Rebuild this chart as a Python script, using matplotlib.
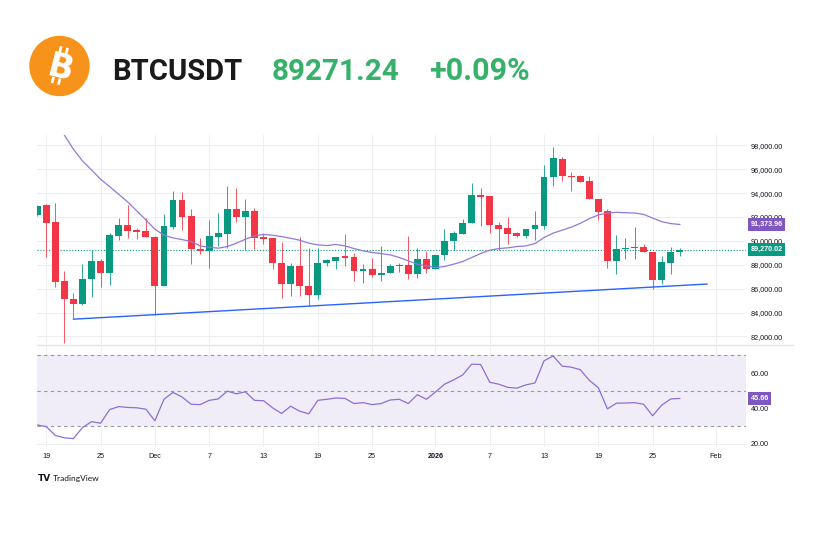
import matplotlib
matplotlib.use("Agg")
import matplotlib.pyplot as plt
import matplotlib.dates as mdates
from matplotlib.patches import Circle
from matplotlib.transforms import blended_transform_factory
import numpy as np
import pandas as pd

# ---------------- data ----------------
symbol = "BTCUSDT"
last_price_text = "89271.24"
change_text = "+0.09%"

dates = pd.date_range("2025-11-18", "2026-01-28", freq="D")
opens = [92180, 92980, 91560, 86630, 85120, 84730, 86820, 88300, 87330, 90420, 91310, 90890, 90810,
         90310, 86240, 91200, 93430, 92060, 89360, 89190, 90360, 90610, 92650, 92010, 92510, 90310,
         90250, 88190, 86410, 87910, 86240, 85490, 88110, 88330, 88720, 88660, 87440, 87630, 87160,
         87330, 87860, 87970, 87190, 88470,
         87630, 88860, 89980, 90610, 91480, 93850, 93740, 91340, 91060, 90640, 90390, 90980, 91230,
         95380, 96860, 95460, 95430, 95010, 93480, 92500, 88310, 89290, 89430, 89510, 89090, 86730,
         88170, 89090]
highs = [93000, 93050, 93150, 87470, 85630, 88080, 89220, 88520, 90640, 91900, 93040, 91090, 91920,
         90400, 92290, 94150, 94070, 92650, 90250, 91760, 92320, 94600, 94460, 93540, 92760, 90640,
         90280, 89910, 88110, 90340, 89440, 89420, 88470, 88660, 90560, 88970, 88050, 88550, 89560,
         88080, 88110, 90390, 89390, 89140,
         88860, 91000, 90810, 91810, 94820, 94430, 93740, 91620, 91980, 90780, 91000, 92480, 96330,
         97890, 97050, 95770, 95490, 95430, 93480, 92700, 90490, 90270, 91130, 89760, 89090, 88730,
         89460, 89370]
lows = [92100, 88660, 86150, 81470, 83560, 84650, 85320, 86150, 86320, 90110, 90220, 90170, 90300,
        83840, 86200, 91030, 90890, 88080, 88940, 87740, 89580, 89440, 91590, 89280, 89310, 89780,
        87630, 85260, 85350, 85350, 84570, 85150, 87910, 87630, 87910, 86660, 86490, 87020, 86660,
        87300, 87410, 86820, 86880, 87350,
        87630, 88410, 89250, 90610, 91480, 91260, 90700, 89250, 89720, 90360, 90250, 90090, 91030,
        94570, 95010, 94200, 94900, 93480, 91750, 87750, 87200, 88450, 88510, 89090, 85970, 86420,
        87200, 88760]
closes = [92930, 91510, 86570, 85120, 84680, 86820, 88300, 87330, 90480, 91310, 90840, 90750, 90340,
          86240, 91260, 93430, 92010, 89330, 89190, 90390, 90670, 92650, 92010, 92510, 90250, 90200,
          88110, 86410, 87910, 86240, 85490, 88130, 88390, 88660, 88580, 87440, 87630, 87160, 87350,
          87880, 87970, 87190, 88470, 87630,
          88860, 89980, 90640, 91480, 93820, 93680, 91310, 91030, 90610, 90420, 91000, 91310, 95380,
          96910, 95460, 95350, 94960, 93480, 92440, 88310, 89320, 89430, 89510, 89090, 86730, 88230,
          89070, 89270.02]

ma_start = "2025-11-21"
ma_values = [98850, 97670, 96690, 95940, 95160, 94540, 93900, 93260, 92510, 91760,
             90980, 90480, 90250, 90110, 89950, 89580, 89470, 89390, 89530, 89810, 90140, 90420,
             90530, 90480, 90360, 90220, 90060, 89810, 89670, 89610, 89700, 89580, 89360, 89170,
             89030, 88940, 88830, 88610, 88330, 88050, 87910,
             87770, 87860, 88050, 88270, 88610, 88940, 89220, 89360, 89420, 89530, 89580, 89780,
             90280, 90650, 90900, 91150, 91470, 91860, 92170, 92330, 92390, 92360, 92330, 92220,
             91910, 91610, 91450, 91373.96]

rsi_values = [30.7, 29.8, 24.8, 23.5, 23.0, 29.3, 32.6, 31.7, 39.4, 41.1, 40.6, 40.4, 39.6,
              33.1, 45.2, 49.1, 46.5, 42.4, 42.2, 44.6, 45.4, 49.8, 48.3, 49.4, 44.6, 44.4, 40.4,
              37.2, 41.3, 38.5, 37.0, 44.6, 45.2, 45.9, 45.7, 42.8, 43.3, 42.2, 42.8, 44.8, 45.2,
              42.8, 47.8, 45.2,
              49.3, 53.7, 56.1, 58.9, 65.0, 64.8, 54.8, 53.7, 51.9, 51.5, 53.3, 54.4, 66.9, 69.6,
              63.9, 63.3, 61.9, 55.9, 51.7, 39.8, 43.0, 43.1, 43.3, 42.4, 35.9, 41.9, 45.4, 45.66]

trend_dates = ["2025-11-22", "2026-01-31"]
trend_values = [83450, 86390]

price_ticks = [82000, 84000, 86000, 88000, 90000, 92000, 94000, 96000, 98000]
rsi_ticks = [20, 40, 60]
rsi_levels = [30, 50, 70]
rsi_band = (30, 70)

x_tick_dates = ["2025-11-19", "2025-11-25", "2025-12-01", "2025-12-07", "2025-12-13",
                "2025-12-19", "2025-12-25", "2026-01-01", "2026-01-07", "2026-01-13",
                "2026-01-19", "2026-01-25", "2026-02-01"]
x_tick_labels = ["19", "25", "Dec", "7", "13", "19", "25", "2026", "7", "13", "19", "25", "Feb"]

# ---------------- styling ----------------
GREEN = "#089981"
RED = "#F23645"
PURPLE = "#7E57C2"
MA_COL = "#9478D8"
GRID = "#EDEEF1"
TXT = "#131722"
AXFONT = "Liberation Sans"
AXSIZE = 5.2

W, H = 832, 554
fig = plt.figure(figsize=(W / 100, H / 100), dpi=100)
fig.patch.set_facecolor("white")


def frac(l, t, r, b):
    return [l / W, 1 - b / H, (r - l) / W, (b - t) / H]


L, R = 37.3, 746.0
ax = fig.add_axes(frac(L, 135, R, 344))
rx = fig.add_axes(frac(L, 345, R, 447), sharex=ax)

xd = mdates.date2num(dates)
o = np.array(opens, float)
h = np.array(highs, float)
lo = np.array(lows, float)
c = np.array(closes, float)
up = c >= o
cols = np.where(up, GREEN, RED)

# x limits (pixel-derived)
ref = mdates.date2num(pd.Timestamp("2025-11-19"))
ppd = 9.05
ax.set_xlim(ref - (46.3 - L) / ppd, ref + (R - 46.3) / ppd)
ax.set_ylim(81372, 98862)

# candles
ax.vlines(xd, lo, h, colors=cols, lw=0.7, alpha=0.85, zorder=2)
body_b = np.minimum(o, c)
body_h = np.maximum(np.abs(c - o), 60)
ax.bar(xd, body_h, bottom=body_b, width=0.76, color=cols, edgecolor="none", zorder=3)

# moving average
ma_dates = pd.date_range(ma_start, periods=len(ma_values), freq="D")
ax.plot(mdates.date2num(ma_dates), ma_values, color=MA_COL, lw=0.9, zorder=4)

# trend line
ax.plot(mdates.date2num(pd.to_datetime(trend_dates)), trend_values, color="#2962FF", lw=1.0, zorder=4)

# last price dotted line
ax.axhline(c[-1], color=GREEN, lw=0.8, ls=(0, (1, 1.6)), zorder=1.5)

# price axis
ax.yaxis.tick_right()
ax.set_yticks(price_ticks)
ax.set_yticklabels([f"{v:,.2f}" for v in price_ticks])
ax.tick_params(axis="y", length=0, pad=3.6, labelsize=AXSIZE, labelcolor=TXT)
ax.tick_params(axis="x", length=0, labelbottom=False)
for lab in ax.get_yticklabels():
    lab.set_family(AXFONT)
ax.grid(True, color=GRID, lw=0.8)
ax.set_axisbelow(True)
for s in ax.spines.values():
    s.set_visible(False)

bt = blended_transform_factory(ax.transAxes, ax.transData)
for val, col in [(ma_values[-1], PURPLE), (c[-1], GREEN)]:
    ax.text(1.0 + 4.5 / (R - L), val, f"{val:,.2f}", transform=bt, ha="left", va="center",
            fontsize=AXSIZE, color="white", family=AXFONT, fontweight="bold", zorder=10,
            bbox=dict(boxstyle="square,pad=0.38", fc=col, ec="none"), clip_on=False)

# RSI pane
rx.set_ylim(18.3, 75.8)
rx.axhspan(rsi_band[0], rsi_band[1], color=PURPLE, alpha=0.1, lw=0, zorder=0.5)
for lv in rsi_levels:
    rx.axhline(lv, color="#9598A1", lw=0.8, ls=(0, (3, 3)), zorder=1)
rx.plot(xd, rsi_values, color="#8E6ED6", lw=0.9, zorder=3)
rx.yaxis.tick_right()
rx.set_yticks(rsi_ticks)
rx.set_yticklabels([f"{v:.2f}" for v in rsi_ticks])
rx.tick_params(axis="y", length=0, pad=3.6, labelsize=AXSIZE, labelcolor=TXT)
for lab in rx.get_yticklabels():
    lab.set_family(AXFONT)
rx.set_xticks(mdates.date2num(pd.to_datetime(x_tick_dates)))
rx.set_xticklabels(x_tick_labels)
rx.tick_params(axis="x", length=0, pad=4.3, labelsize=AXSIZE, labelcolor=TXT)
for lab in rx.get_xticklabels():
    lab.set_family(AXFONT)
    if lab.get_text().isdigit() and len(lab.get_text()) == 4:
        lab.set_fontweight("bold")
rx.grid(True, color=GRID, lw=0.8)
rx.set_axisbelow(True)
for s in rx.spines.values():
    s.set_visible(False)
bt2 = blended_transform_factory(rx.transAxes, rx.transData)
rx.text(1.0 + 4.5 / (R - L), rsi_values[-1], f"{rsi_values[-1]:.2f}", transform=bt2, ha="left",
        va="center", fontsize=AXSIZE, color="white", family=AXFONT, fontweight="bold", zorder=10,
        bbox=dict(boxstyle="square,pad=0.38", fc=PURPLE, ec="none"), clip_on=False)

# ---------------- overlay (header, separator, branding) ----------------
ov = fig.add_axes([0, 0, 1, 1])
ov.set_xlim(0, W)
ov.set_ylim(H, 0)
ov.axis("off")
ov.patch.set_alpha(0)

ov.plot([L, 793], [344.5, 344.5], color="#E0E3EB", lw=0.9)

renderer = fig.canvas.get_renderer()


def fit_text(x, y, s, target_w, **kw):
    t = ov.text(x, y, s, fontsize=20, ha="left", va="baseline", **kw)
    bb = t.get_window_extent(renderer)
    t.set_fontsize(20 * target_w / bb.width)
    return t


# bitcoin logo
cx, cy = 59.5, 66.0
ov.add_patch(Circle((cx, cy), 29.5, color="#F7931A", zorder=5))
ov.text(cx + 1.0, cy + 3.0, "B", color="white", fontsize=24, fontweight="bold", family="DejaVu Sans",
        rotation=-14, ha="center", va="center", zorder=6)
th = np.deg2rad(14)
for u in (-3.6, 3.0):
    for v0, v1 in ((-19.5, -13.0), (12.0, 18.5)):
        xs = [cx + 0.5 + u * np.cos(th) - v * np.sin(th) for v in (v0, v1)]
        ys = [cy + u * np.sin(th) + v * np.cos(th) for v in (v0, v1)]
        ov.plot(xs, ys, color="white", lw=1.9, solid_capstyle="butt", zorder=6)

fit_text(111.7, 80, symbol, 130, color="#1A1A1A", fontweight="bold", family="Roboto")
fit_text(271.7, 80, last_price_text, 127.6, color="#36B16A", fontweight="bold", family="Roboto")
fit_text(429.3, 80, change_text, 100.7, color="#36B16A", fontweight="bold", family="Roboto")

# TradingView branding
fit_text(37.5, 481, "TV", 13, color=TXT, fontweight="heavy", family="DejaVu Sans")
fit_text(52.7, 481, "TradingView", 47, color=TXT, family="Lato")

fig.savefig("out.png", dpi=100)
